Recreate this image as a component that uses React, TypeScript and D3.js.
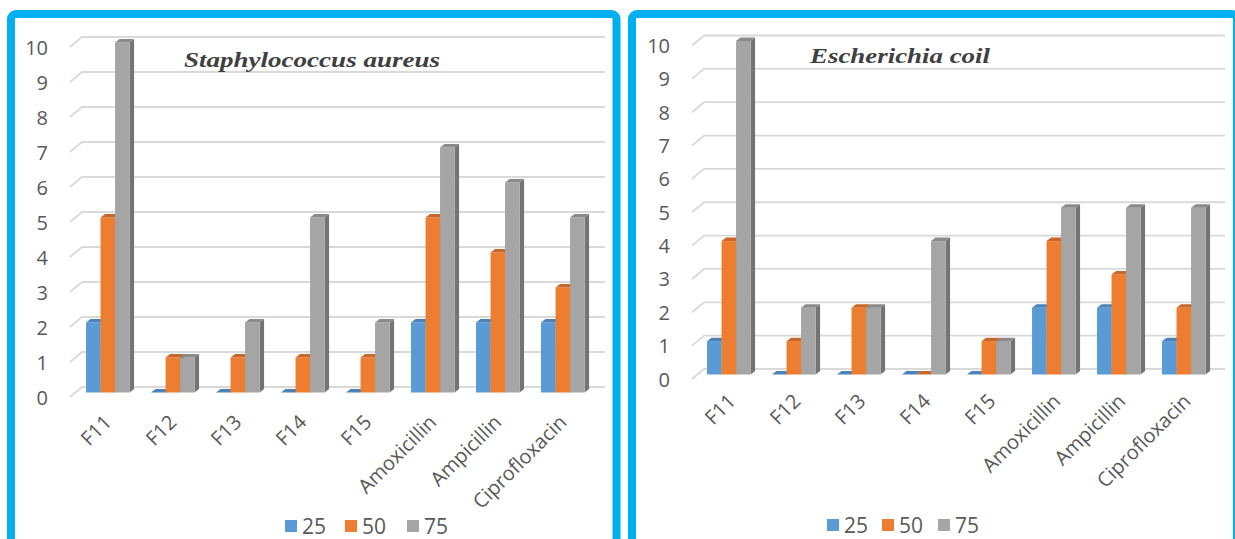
import React from "react";
import * as d3 from "d3";

const categories = ["F11", "F12", "F13", "F14", "F15", "Amoxicillin", "Ampicillin", "Ciprofloxacin"];
const seriesKeys = ["25", "50", "75"];
const yTicks = [0, 1, 2, 3, 4, 5, 6, 7, 8, 9, 10];

const saureus25 = [2, 0, 0, 0, 0, 2, 2, 2];
const saureus50 = [5, 1, 1, 1, 1, 5, 4, 3];
const saureus75 = [10, 1, 2, 5, 2, 7, 6, 5];

const ecoli25 = [1, 0, 0, 0, 0, 2, 2, 1];
const ecoli50 = [4, 1, 2, 0, 1, 4, 3, 2];
const ecoli75 = [10, 2, 2, 4, 1, 5, 5, 5];

const COLORS = ["#5B9BD5", "#ED7D31", "#A5A5A5"];
const SIDE = ["#41719C", "#B45F22", "#747474"];
const TOP = ["#4A83BA", "#C9672A", "#8A8A8A"];

const FONT = "'Open Sans', 'Noto Sans', sans-serif";
const TXT = "#595959";

type PanelProps = {
  title: string;
  titleX: number;
  titleY: number;
  titleLen: number;
  series: number[][];
  yRange: [number, number];
  xRange: [number, number];
  diagX: number;
  gridEnd: number;
  labelX: number;
  xLabelDx: number;
  xLabelDy: number;
  legendX: number[];
  legendY: number;
};

function Panel(p: PanelProps) {
  const yBack = d3.scaleLinear().domain([0, 10]).range(p.yRange);
  const x0 = d3.scaleBand<string>().domain(categories).range(p.xRange).paddingInner(0.33).paddingOuter(0.165);
  const x1 = d3.scaleBand<string>().domain(seriesKeys).range([0, x0.bandwidth()]);
  const dx = 4.5;
  const dy = -3.5;
  const front = (v: number) => yBack(v) + 5.5;
  const base = front(0);
  return (
    <g>
      {yTicks.map((t) => (
        <g key={t}>
          <path
            d={`M${p.diagX},${yBack(t) + 10}L${p.diagX + 12},${yBack(t)}H${p.gridEnd}`}
            fill="none"
            stroke="#D9D9D9"
            strokeWidth={1.8}
          />
          <text x={p.labelX} y={yBack(t) + 10} textAnchor="end" dominantBaseline="central" fontFamily={FONT} fontSize={20} fill={TXT}>
            {t}
          </text>
        </g>
      ))}
      {categories.map((c, ci) => (
        <g key={c}>
          {seriesKeys.map((s, si) => {
            const v = p.series[si][ci];
            const x = (x0(c) as number) + (x1(s) as number);
            const w = x1.bandwidth();
            const yt = front(v);
            return (
              <g key={s}>
                <polygon points={`${x + w},${yt} ${x + w + dx},${yt + dy} ${x + w + dx},${base + dy} ${x + w},${base}`} fill={SIDE[si]} />
                <rect x={x} y={yt} width={w} height={base - yt} fill={COLORS[si]} />
                <polygon points={`${x},${yt} ${x + dx},${yt + dy} ${x + w + dx},${yt + dy} ${x + w},${yt}`} fill={TOP[si]} />
              </g>
            );
          })}
          <text
            transform={`translate(${(x0(c) as number) + x0.bandwidth() / 2 + p.xLabelDx},${base + p.xLabelDy}) rotate(-45)`}
            textAnchor="end"
            fontFamily={FONT}
            fontSize={20}
            fill={TXT}
          >
            {c}
          </text>
        </g>
      ))}
      <text
        x={p.titleX}
        y={p.titleY}
        fontFamily="'Liberation Serif', 'DejaVu Serif', serif"
        fontStyle="italic"
        fontWeight="bold"
        fontSize={21}
        fill="#404040"
        textLength={p.titleLen}
        lengthAdjust="spacingAndGlyphs"
      >
        {p.title}
      </text>
      {seriesKeys.map((s, si) => (
        <g key={s}>
          <rect x={p.legendX[si]} y={p.legendY - 6} width={12} height={12} fill={COLORS[si]} />
          <text x={p.legendX[si] + 17} y={p.legendY} dominantBaseline="central" fontFamily={FONT} fontSize={21} fill={TXT}>
            {s}
          </text>
        </g>
      ))}
    </g>
  );
}

export default function App() {
  return (
    <div style={{ position: "absolute", left: 0, top: 0 }}>
      <svg width={1235} height={539} viewBox="0 0 1235 539" style={{ display: "block", background: "#fff" }}>
        <rect x={11} y={14} width={605.5} height={600} rx={5} fill="#fff" stroke="#00B0F0" strokeWidth={8} />
        <rect x={632} y={14} width={605} height={600} rx={5} fill="#fff" stroke="#00B0F0" strokeWidth={8} />
        <Panel
          title="Staphylococcus  aureus"
          titleX={184}
          titleY={67}
          titleLen={256}
          series={[saureus25, saureus50, saureus75]}
          yRange={[387, 37]}
          xRange={[75.3, 595.3]}
          diagX={70}
          gridEnd={605}
          labelX={48}
          xLabelDx={5}
          xLabelDy={31}
          legendX={[285, 345, 407]}
          legendY={526}
        />
        <Panel
          title="Escherichia coil"
          titleX={810}
          titleY={63}
          titleLen={180}
          series={[ecoli25, ecoli50, ecoli75]}
          yRange={[369, 35.5]}
          xRange={[696.3, 1216.3]}
          diagX={692}
          gridEnd={1225}
          labelX={670}
          xLabelDx={8}
          xLabelDy={28}
          legendX={[827, 882, 938]}
          legendY={525}
        />
      </svg>
    </div>
  );
}
